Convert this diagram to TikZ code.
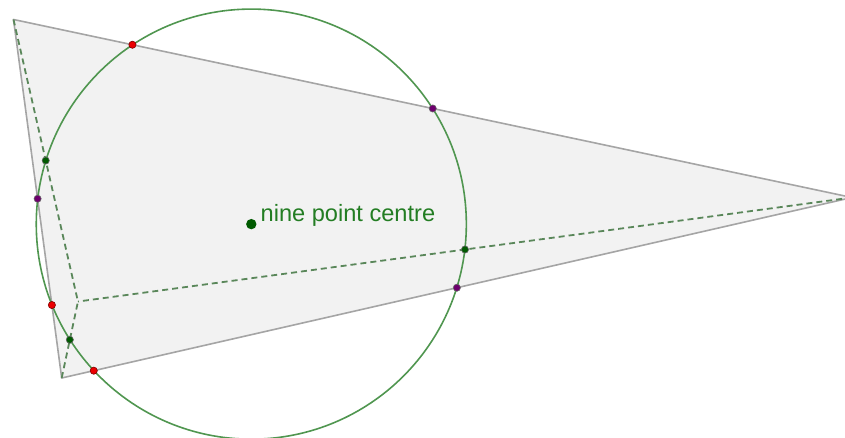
\documentclass[tikz,border=0pt]{standalone}
\usepackage{fontspec}
\setmainfont{Liberation Sans}
\usetikzlibrary{calc}

\definecolor{fillgray}{RGB}{242,242,242}
\definecolor{edgegray}{RGB}{165,165,165}
\definecolor{ninegreen}{RGB}{80,150,80}
\definecolor{dashcol}{RGB}{90,135,90}
\definecolor{footred}{RGB}{235,0,0}
\definecolor{midpurple}{RGB}{110,0,110}
\definecolor{halfgreen}{RGB}{0,90,0}
\definecolor{labgreen}{RGB}{35,125,35}

\begin{document}
\begin{tikzpicture}[x=0.5pt, y=-0.5pt,
  side/.style={draw=edgegray, line width=0.8pt, fill=fillgray, line join=round},
  alt/.style={draw=dashcol, line width=0.9pt, dash pattern=on 3pt off 2pt},
  npc/.style={draw=ninegreen, line width=0.8pt},
  dotpt/.style={circle, inner sep=0pt, minimum size=3.6pt, draw=black!60, line width=0.3pt},
  foot/.style={dotpt, fill=footred, draw=red!50!black},
  mid/.style={dotpt, fill=midpurple},
  half/.style={dotpt, fill=halfgreen},
  centre/.style={circle, inner sep=0pt, minimum size=5.2pt, fill=halfgreen},
  lab/.style={text=labgreen, inner sep=0pt, font=\fontsize{11.8}{14}\selectfont}]
\clip (0,0) rectangle (845,438);
% triangle (right vertex lies just past the frame)
\coordinate (A) at (13.5,19.5);
\coordinate (B) at (852,197.5);
\coordinate (C) at (61.7,378);
% feet, midpoints, orthocentre, circumcentre
\coordinate (Fa) at ($(B)!(A)!(C)$);
\coordinate (Fb) at ($(A)!(B)!(C)$);
\coordinate (Fc) at ($(A)!(C)!(B)$);
\coordinate (Mab) at ($(A)!0.5!(B)$);
\coordinate (Mac) at ($(A)!0.5!(C)$);
\coordinate (Mbc) at ($(B)!0.5!(C)$);
\coordinate (H) at (intersection of A--Fa and B--Fb);
\coordinate (Pab) at ($(Mab)!1!90:(B)$);
\coordinate (Pac) at ($(Mac)!1!90:(C)$);
\coordinate (O) at (intersection of Mab--Pab and Mac--Pac);
\coordinate (N) at ($(O)!0.5!(H)$);
\coordinate (Ha) at ($(A)!0.5!(H)$);
\coordinate (Hb) at ($(B)!0.5!(H)$);
\coordinate (Hc) at ($(C)!0.5!(H)$);
\path[side] (A) -- (B) -- (C) -- cycle;
\draw[alt] (A) -- (H);
\draw[alt] (B) -- (H);
\draw[alt] (C) -- (H);
\draw[npc] let \p1 = ($(Mab)-(N)$), \n1 = {veclen(\x1,\y1)} in (N) circle (\n1);
\node[foot] (fa) at (Fa) {};
\node[foot] (fb) at (Fb) {};
\node[foot] (fc) at (Fc) {};
\node[mid] (mab) at (Mab) {};
\node[mid] (mac) at (Mac) {};
\node[mid] (mbc) at (Mbc) {};
\node[half] (ha) at (Ha) {};
\node[half] (hb) at (Hb) {};
\node[half] (hc) at (Hc) {};
\node[centre] (n) at (N) {};
\node[lab, anchor=base west] (nlab) at ([xshift=4.5pt, yshift=1.4pt]n.center) {nine point centre};
\end{tikzpicture}
\end{document}
